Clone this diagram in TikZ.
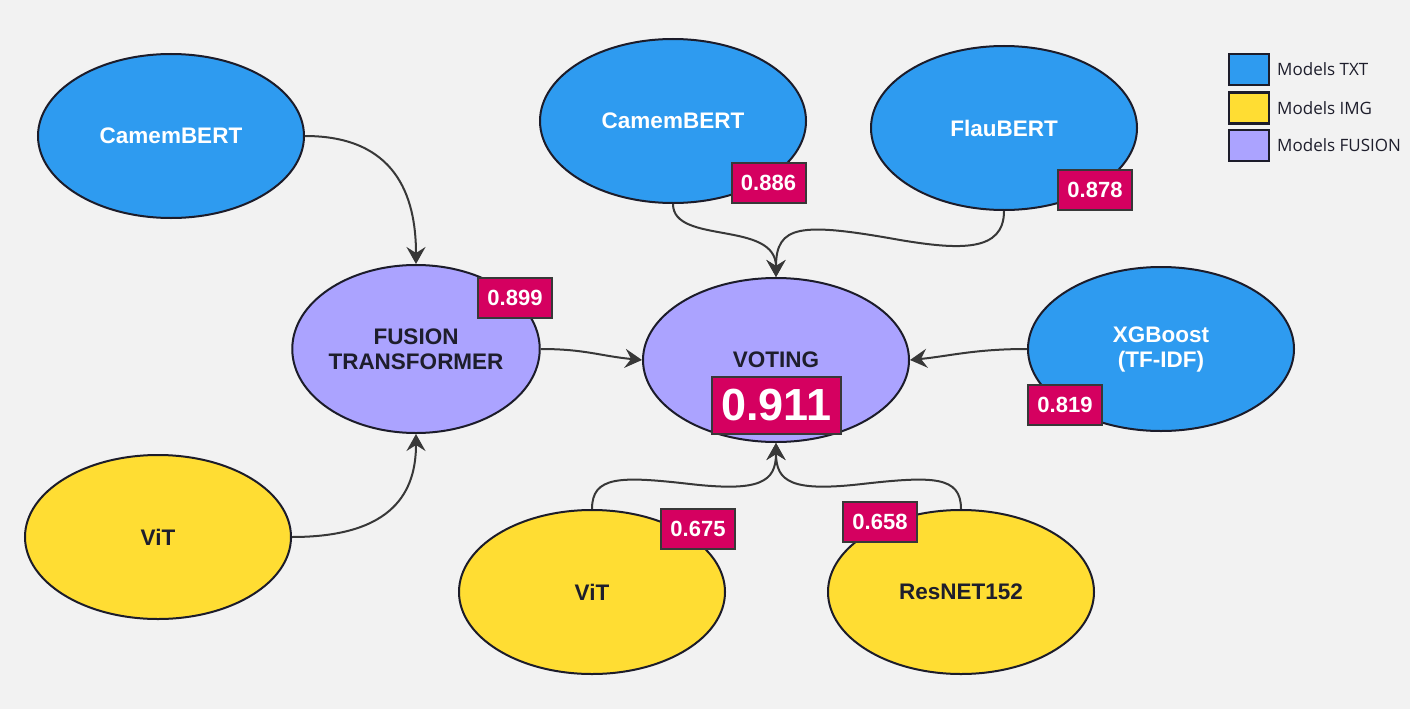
\documentclass[tikz,border=0pt]{standalone}
\usepackage{fontspec}
\setmainfont{Liberation Sans}
\newfontfamily\legendfont{Open Sans}
\usetikzlibrary{shapes.geometric,arrows.meta}
\definecolor{bg}{HTML}{F2F2F2}
\definecolor{txtblue}{HTML}{2E9BF0}
\definecolor{imgyellow}{HTML}{FFDD33}
\definecolor{fuspurple}{HTML}{ABA3FF}
\definecolor{badgered}{HTML}{D50060}
\definecolor{outline}{HTML}{1C1C2A}
\definecolor{edgegray}{HTML}{383838}
\definecolor{darktext}{HTML}{1E1E2C}
\tikzset{
  model/.style={ellipse, draw=outline, line width=2pt, minimum width=266pt, minimum height=164pt, inner sep=0pt, align=center, font=\bfseries\fontsize{22.5}{25}\selectfont},
  txtm/.style={model, fill=txtblue, text=white},
  imgm/.style={model, fill=imgyellow, text=darktext},
  fusm/.style={model, fill=fuspurple, text=darktext},
  badge/.style={rectangle, draw=edgegray, line width=2pt, fill=badgered, text=white, minimum width=74pt, minimum height=40pt, inner sep=0pt, font=\bfseries\fontsize{22}{24}\selectfont},
  bigbadge/.style={badge, minimum width=129pt, minimum height=57pt, font=\bfseries\fontsize{45}{47}\selectfont},
  link/.style={draw=edgegray, line width=2pt, -{Stealth[length=17pt,width=19pt,inset=6pt]}},
  legbox/.style={rectangle, draw=outline, line width=2.5pt, minimum width=40pt, minimum height=31pt, inner sep=0pt},
  legtext/.style={anchor=west, inner sep=0pt, text=darktext, font=\legendfont\fontsize{17}{20}\selectfont}
}
\begin{document}
\begin{tikzpicture}[x=1pt,y=-1pt]
\fill[bg] (0,0) rectangle (1410,709);
\useasboundingbox (0,0) rectangle (1410,709);

% models
\node[txtm] (cam1) at (171,136) {CamemBERT};
\node[txtm] (cam2) at (673,121) {CamemBERT};
\node[txtm] (flau) at (1004,128) {FlauBERT};
\node[fusm, minimum width=246pt, minimum height=168pt] (fusion) at (416,349) {FUSION\\TRANSFORMER};
\node[fusm] (voting) at (776,360) {VOTING};
\node[txtm] (xgb) at (1161,349) {XGBoost\\(TF-IDF)};
\node[imgm] (vit1) at (158,537) {ViT};
\node[imgm] (vit2) at (592,592) {ViT};
\node[imgm] (res) at (961,592) {ResNET152};

% badges
\node[badge] (b886) at (768.5,183) {0.886};
\node[badge] (b878) at (1095,190) {0.878};
\node[badge] (b899) at (515,298) {0.899};
\node[bigbadge] (b911) at (776.5,405.5) {0.911};
\node[badge] (b819) at (1065,405) {0.819};
\node[badge] (b675) at (698,529) {0.675};
\node[badge] (b658) at (880,522) {0.658};

% connectors
\draw[link] (cam1.east) .. controls (395,136) and (416,195) .. (fusion.north);
\draw[link] (vit1.east) .. controls (395,537) and (416,490) .. (fusion.south);
\draw[link] (fusion.east) .. controls (585,349) and (600,356) .. (voting.west);
\draw[link] (xgb.west) .. controls (975,349) and (950,356) .. (voting.east);
\draw[link] (cam2.south) .. controls (673,245) and (776,220) .. (voting.north);
\draw[link] (flau.south) .. controls (1004,252) and (960,250) .. (900,240) .. controls (800,222) and (776,225) .. (voting.north);
\draw[link] (vit2.north) .. controls (592,476) and (620,476) .. (690,484) .. controls (760,492) and (776,482) .. (voting.south);
\draw[link] (res.north) .. controls (961,476) and (933,476) .. (862,484) .. controls (792,492) and (776,482) .. (voting.south);

% legend
\node[legbox, fill=txtblue] (l1) at (1249,69.5) {};
\node[legbox, fill=imgyellow] (l2) at (1249,108) {};
\node[legbox, fill=fuspurple] (l3) at (1249,145.5) {};
\node[legtext] (t1) at (1277,69.5) {Models TXT};
\node[legtext] (t2) at (1277,108) {Models IMG};
\node[legtext] (t3) at (1277,145.5) {Models FUSION};
\end{tikzpicture}
\end{document}
